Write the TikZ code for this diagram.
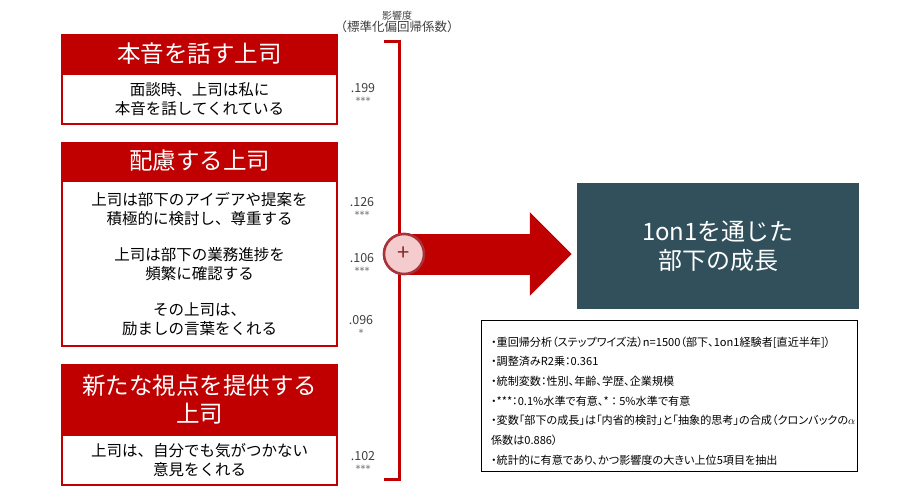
\documentclass[tikz,border=0pt]{standalone}
\usepackage{fontspec}
\setmainfont{Noto Sans CJK JP}
\newfontfamily\notefont[RawFeature=+palt]{Noto Sans CJK JP}
\newfontfamily\starfont{DejaVu Sans}
\usetikzlibrary{positioning,arrows.meta}
\definecolor{bossred}{HTML}{C00000}
\definecolor{slate}{HTML}{31505C}
\definecolor{pinkfill}{HTML}{F4CCCE}
\definecolor{ringred}{HTML}{A8323A}
\definecolor{coefgray}{HTML}{404040}
\definecolor{stargray}{HTML}{6A6A6A}
\newcommand{\stars}[1]{{\color{stargray}\starfont\fontsize{10}{10}\selectfont #1}}

\begin{document}
\begin{tikzpicture}[x=1pt,y=-1pt,
			hdr/.style={fill=bossred,text=white,minimum width=277pt,inner sep=0pt,
				align=center,font=\fontsize{23.5}{28}\selectfont},
			bdy/.style={draw=bossred,line width=2pt,fill=white,minimum width=275pt,
				inner sep=0pt,align=center,font=\fontsize{15.5}{19}\selectfont},
			coef/.style={text=coefgray,align=center,inner sep=0pt,
				font=\fontsize{12.5}{12}\selectfont},
			plus/.style={circle,fill=pinkfill,draw=ringred,line width=2.5pt,
				minimum size=40pt,inner sep=0pt,text=ringred!80!black,font=\fontsize{22}{22}\selectfont},
			bigarrow/.style={draw=bossred,line width=41pt,
				-{Triangle[length=42pt,width=81pt]},shorten >=5pt},
			goal/.style={fill=slate,text=white,minimum width=282pt,minimum height=126pt,
				align=center,font=\fontsize{24}{29}\selectfont},
			notebox/.style={draw=black,line width=1.2pt,minimum width=376pt,minimum height=151pt},
			notetext/.style={align=left,inner sep=0pt,
				font=\notefont\fontsize{11.1}{19.7}\selectfont}]
			\useasboundingbox (0,0) rectangle (920,500);
			% left column
			\node[hdr,minimum height=39pt] (h1) at (199.5,53.5) {本音を話す上司};
			\node[bdy,minimum height=50pt,below=0pt of h1] (b1) {面談時、上司は私に\\本音を話してくれている};
			\node[hdr,minimum height=38pt] (h2) at (199.5,161) {配慮する上司};
			\node[bdy,minimum height=165pt,below=0pt of h2] (b2)
				{上司は部下のアイデアや提案を\\積極的に検討し、尊重する\\[17pt]
				上司は部下の業務進捗を\\頻繁に確認する\\[17pt]
				その上司は、\\励ましの言葉をくれる};
			\node[hdr,minimum height=70pt] (h3) at (199.5,399) {新たな視点を提供する\\上司};
			\node[bdy,minimum height=50pt,below=0pt of h3] (b3) {上司は、自分でも気がつかない\\意見をくれる};
			% coefficients
			\node[coef] (c0) at (397,22) {\fontsize{10}{14}\selectfont 影響度\\（標準化偏回帰係数）};
			\node[coef] (c1) at (363,94) {.199\\\stars{***}};
			\node[coef] (c2) at (362,208) {.126\\\stars{***}};
			\node[coef] (c3) at (362,264) {.106\\\stars{***}};
			\node[coef] (c4) at (361,326) {.096\\\stars{*}};
			\node[coef] (c5) at (363,462) {.102\\\stars{***}};
			% bracket
			\coordinate (brtop) at (384,42);
			\coordinate (brbot) at (384,479);
			\draw[bossred,line width=3pt] (brtop) -- ++(15,0) |- (brbot);
			% result
			\node[goal] (gr) at (718,246) {1on1を通じた\\部下の成長};
			\node[plus] (pl) at (404,254) {};
			\draw[bigarrow] (pl.center) -- (pl -| gr.west);
			\node[plus] at (pl) {+};
			% notes
			\node[notebox] (nt) at (669.5,396) {};
			\node[notetext,anchor=west] (ntx) at ([xshift=10pt,yshift=-5pt]nt.west)
				{・重回帰分析（ステップワイズ法）n=1500（部下、1on1経験者[直近半年]）\\
				・調整済みR2乗：0.361\\
				・統制変数：性別、年齢、学歴、企業規模\\
				・***：0.1\%水準で有意、*\ ：\ 5\%水準で有意\\
				・変数「部下の成長」は「内省的検討」と「抽象的思考」の合成（クロンバックの$\alpha$\\
				係数は0.886）\\
				・統計的に有意であり、かつ影響度の大きい上位5項目を抽出};
		\end{tikzpicture}
\end{document}
